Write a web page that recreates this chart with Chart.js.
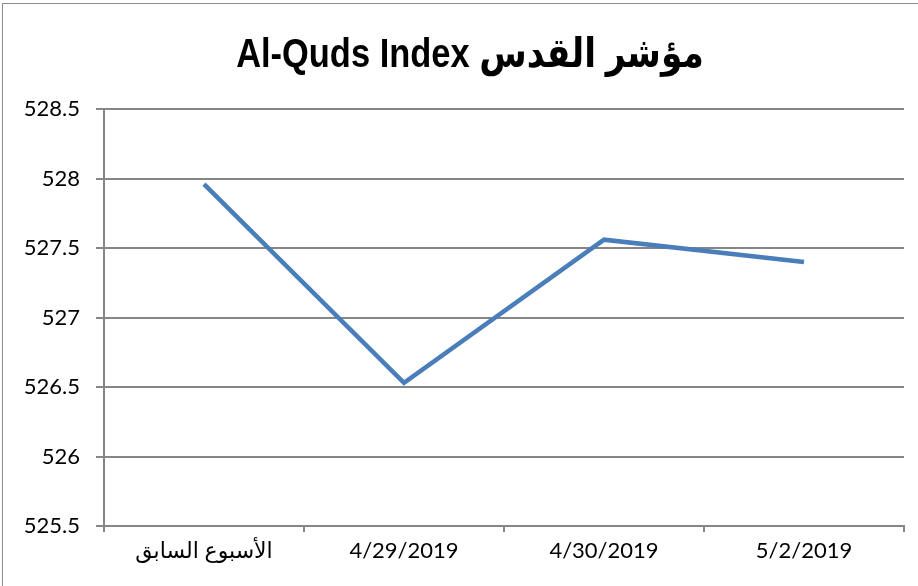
<!DOCTYPE html>
<html>
<head>
<meta charset="utf-8">
<script src="https://cdn.jsdelivr.net/npm/chart.js@4"></script>
<style>
    html, body { margin: 0; padding: 0; background: #fff; }
    #cadre {
        position: relative;
        width: 918px;
        height: 586px;
        box-sizing: border-box;
        border: 1px solid #8c8c8c;
        border-right: none;
        border-bottom: none;
        margin-left: 2px;
        margin-top: 3px;
    }
</style>
</head>
<body>
<div id="cadre">
    <canvas id="indexChart" width="916" height="583"></canvas>
</div>
<script>
// Données
const categories = ["الأسبوع السابق", "4/29/2019", "4/30/2019", "5/2/2019"];
const valeursIndice = [527.96, 526.53, 527.56, 527.40];
const titreGraphique = "Al-Quds Index مؤشر القدس";
const yMin = 525.5;
const yMax = 528.5;
const yPas = 0.5;

const couleurGrille = "#868686";
const policeTexte = "Lato, 'DejaVu Sans', sans-serif";

// Titre dessiné en police condensée (style Arial Narrow)
const titreCondense = {
    id: "titreCondense",
    afterDraw(chart) {
        const ctx = chart.ctx;
        ctx.save();
        ctx.font = "bold 41px 'Liberation Sans', 'DejaVu Sans', sans-serif";
        ctx.fillStyle = "#000";
        ctx.textAlign = "center";
        ctx.textBaseline = "alphabetic";
        ctx.translate(467, 63);
        ctx.scale(0.84, 1);
        ctx.fillText(titreGraphique, 0, 0);
        ctx.restore();
    }
};

new Chart(document.getElementById("indexChart"), {
    type: "line",
    data: {
        labels: categories,
        datasets: [{
            label: "Al-Quds Index",
            data: valeursIndice,
            borderColor: "#4a7ebb",
            borderWidth: 4.5,
            pointRadius: 0,
            tension: 0,
            fill: false
        }]
    },
    options: {
        responsive: false,
        animation: false,
        layout: {
            padding: { left: 0, right: 15, top: 105, bottom: 0 }
        },
        plugins: {
            legend: { display: false },
            tooltip: { enabled: false },
            title: { display: false }
        },
        scales: {
            x: {
                offset: true,
                grid: {
                    offset: true,
                    drawOnChartArea: false,
                    drawTicks: true,
                    tickLength: 6,
                    color: couleurGrille,
                    lineWidth: 2
                },
                border: { color: couleurGrille, width: 2 },
                ticks: {
                    color: "#000",
                    font: { family: policeTexte, size: 22 },
                    padding: 6,
                    maxRotation: 0
                },
                afterFit: function(scale) {
                    scale.height = 61;
                }
            },
            y: {
                min: yMin,
                max: yMax,
                grid: {
                    color: couleurGrille,
                    lineWidth: 2,
                    tickLength: 8
                },
                border: { color: couleurGrille, width: 2 },
                ticks: {
                    stepSize: yPas,
                    color: "#000",
                    font: { family: policeTexte, size: 22 },
                    padding: 16,
                    callback: function(valeur) {
                        return String(Number(valeur));
                    }
                },
                afterFit: function(scale) {
                    scale.width = 101;
                }
            }
        }
    },
    plugins: [titreCondense]
});
</script>
</body>
</html>
